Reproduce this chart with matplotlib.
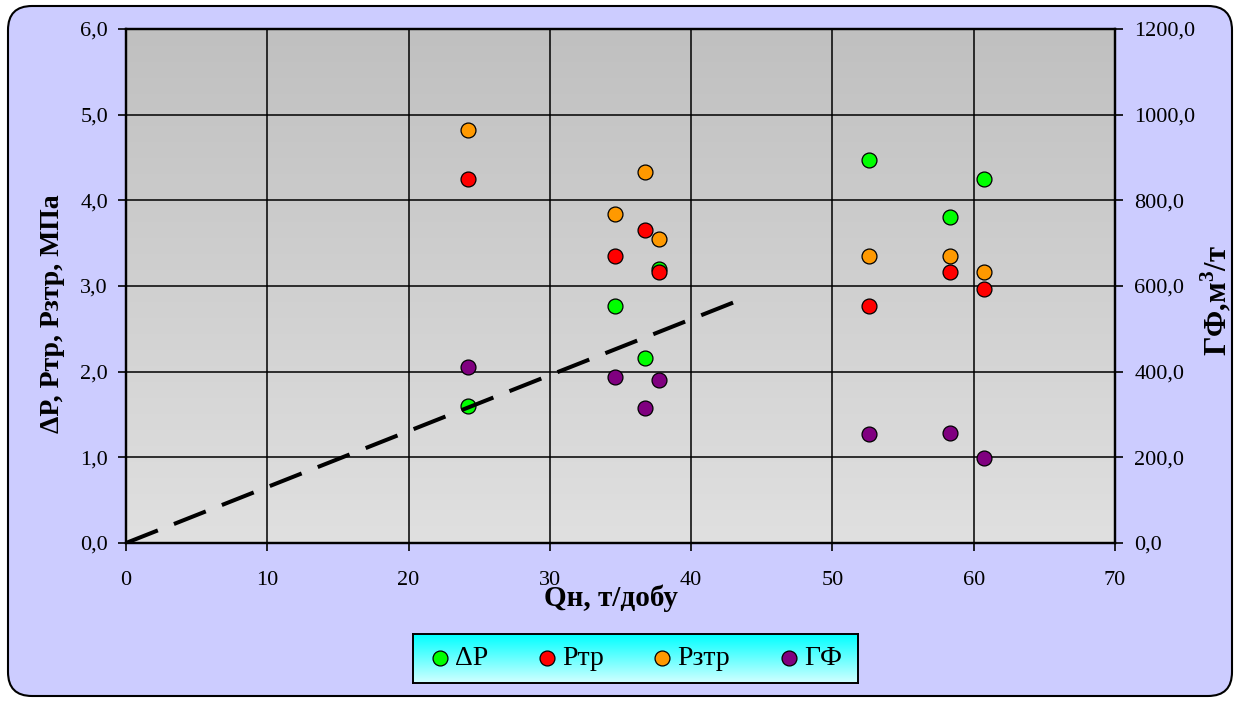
import matplotlib
matplotlib.use('Agg')
import matplotlib.pyplot as plt
import numpy as np
from matplotlib.patches import FancyBboxPatch

plt.rcParams['font.family'] = ['Liberation Serif', 'DejaVu Serif']
plt.rcParams['mathtext.fontset'] = 'custom'
plt.rcParams['mathtext.rm'] = 'Liberation Serif'
plt.rcParams['mathtext.bf'] = 'Liberation Serif:bold'

# data
qn = [24.2, 34.6, 36.7, 37.7, 52.6, 58.3, 60.7]
dp = [1.60, 2.77, 2.16, 3.20, 4.47, 3.80, 4.25]
ptr = [4.25, 3.35, 3.65, 3.16, 2.77, 3.16, 2.96]
pztr = [4.82, 3.84, 4.33, 3.55, 3.35, 3.35, 3.16]
gf = [410, 388, 315, 380, 254, 257, 199]
trend_x = [0, 44.1]
trend_y = [0, 2.88]

x_ticks = [0, 10, 20, 30, 40, 50, 60, 70]
left_ticks = [0, 1, 2, 3, 4, 5, 6]
right_ticks = [0, 200, 400, 600, 800, 1000, 1200]

fig = plt.figure(figsize=(12.38, 7.02), dpi=100)
fig.patch.set_facecolor('white')

# rounded outer frame
frame = FancyBboxPatch((8, 6), 1224, 690, boxstyle='round,pad=0,rounding_size=24',
                       transform=None, facecolor='#CCCCFF', edgecolor='black', lw=1.5,
                       zorder=-10)
fig.patches.append(frame)

pos = [126/1238, 1-543/702, 989/1238, 514/702]

# gradient background + grid
bg = fig.add_axes(pos, zorder=0)
g = np.linspace(0, 1, 256)[:, None]
top = np.array([192, 192, 192]) / 255
bot = np.array([224, 224, 224]) / 255
grad = top + (bot - top) * g[:, :, None]
bg.imshow(grad, extent=[0, 70, 0, 6], aspect='auto', origin='upper')
bg.set_xlim(0, 70)
bg.set_ylim(0, 6)
for v in x_ticks[1:-1]:
    bg.axvline(v, color='black', lw=1.1)
for h in left_ticks[1:-1]:
    bg.axhline(h, color='black', lw=1.1)
bg.set_xticks([])
bg.set_yticks([])
for s in bg.spines.values():
    s.set_visible(False)

ax = fig.add_axes(pos, zorder=2)
ax.patch.set_visible(False)
ax2 = ax.twinx()
ax2.set_zorder(1)
ax2.patch.set_visible(False)

ms = 115
ax.scatter(qn, dp, s=ms, c='#00FF00', edgecolors='black', linewidths=0.9, label='ΔP', zorder=3)
ax.scatter(qn, ptr, s=ms, c='#FF0000', edgecolors='black', linewidths=0.9, label='Ртр', zorder=3)
ax.scatter(qn, pztr, s=ms, c='#FF9900', edgecolors='black', linewidths=0.9, label='Рзтр', zorder=3)
ax2.scatter(qn, gf, s=ms, c='#800080', edgecolors='black', linewidths=0.9, label='ГФ', zorder=3)
ax.plot(trend_x, trend_y, color='black', lw=2.9, dashes=(8.5, 4.3), zorder=4)

ax.set_xlim(0, 70)
ax.set_ylim(0, 6)
ax2.set_ylim(0, 1200)
ax.set_xticks(x_ticks)
ax.set_xticklabels([str(v) for v in x_ticks])
ax.set_yticks(left_ticks)
ax.set_yticklabels([f'{v:.1f}'.replace('.', ',') for v in left_ticks])
ax2.set_yticks(right_ticks)
ax2.set_yticklabels([f'{v:.1f}'.replace('.', ',') for v in right_ticks])

ax.tick_params(axis='x', direction='out', length=6, width=1.2, labelsize=16, pad=14)
ax.tick_params(axis='y', direction='out', length=6, width=1.2, labelsize=16, pad=7)
ax2.tick_params(axis='y', direction='out', length=6, width=1.2, labelsize=16, pad=8)
for s in list(ax.spines.values()) + list(ax2.spines.values()):
    s.set_linewidth(1.6)

ax.set_xlabel('Qн, т/добу', fontsize=21, fontweight='bold')
ax.xaxis.set_label_coords(0.49, -0.08)
ax.set_ylabel('ΔP, Ртр, Рзтр, МПа', fontsize=20, fontweight='bold')
ax.yaxis.set_label_coords(-0.062, 0.447)
ax2.set_ylabel('ГФ,м$^{\\mathbf{3}}$/т', fontsize=22, fontweight='bold')
ax2.yaxis.set_label_coords(1.085, 0.471)

# legend box with cyan gradient
lg = fig.add_axes([413/1238, 1-683/702, 445/1238, 49/702], zorder=3)
ctop = np.array([0, 255, 255]) / 255
cbot = np.array([210, 255, 255]) / 255
lg.imshow(ctop + (cbot - ctop) * g[:, :, None], extent=[0, 1, 0, 1], aspect='auto', origin='upper')
lg.set_xticks([])
lg.set_yticks([])
for s in lg.spines.values():
    s.set_linewidth(1.4)
h1, l1 = ax.get_legend_handles_labels()
h2, l2 = ax2.get_legend_handles_labels()
lg.legend(h1 + h2, l1 + l2, loc='center', ncol=4, frameon=False, fontsize=20,
          handlelength=0.8, handletextpad=0.15, columnspacing=1.7, scatterpoints=1)

fig.savefig('out.png', dpi=100)
